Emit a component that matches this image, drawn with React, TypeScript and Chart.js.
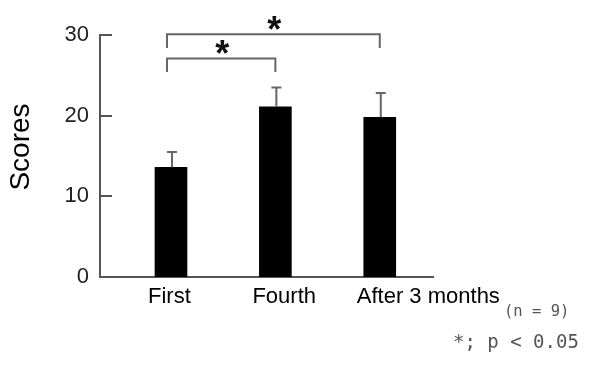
import React, { useEffect, useRef } from "react";
import { Chart, registerables } from "chart.js";

Chart.register(...registerables);

const categories = ["First", "Fourth", "After 3 months"];
const means = [13.6, 21.1, 19.8];
const errors = [1.9, 2.4, 3.0];
const yTicks = [0, 10, 20, 30];
const yTitle = "Scores";
const compFrom = [0, 0];
const compTo = [1, 2];
const compTop = [27.1, 30.1];
const compLeg = [25.4, 28.4];
const compMark = ["*", "*"];
const noteN = "(n = 9)";
const noteP = "*; p < 0.05";

const FONT = "Arial, 'Liberation Sans', sans-serif";
const LABEL_SHIFT = -0.22;

const overlay = {
  id: "overlay",
  afterDraw(chart: any) {
    const ctx = chart.ctx as CanvasRenderingContext2D;
    const xs = chart.scales.x;
    const ys = chart.scales.y;
    ctx.save();
    // inward y ticks
    ctx.strokeStyle = "#555";
    ctx.lineWidth = 2;
    yTicks.forEach((v) => {
      const py = Math.round(ys.getPixelForValue(v));
      ctx.beginPath();
      ctx.moveTo(xs.left, py);
      ctx.lineTo(xs.left + 12, py);
      ctx.stroke();
    });
    // error bars
    const meta = chart.getDatasetMeta(0);
    ctx.strokeStyle = "#666";
    meta.data.forEach((bar: any, i: number) => {
      const cx = bar.x + 1;
      const top = ys.getPixelForValue(means[i] + errors[i]);
      ctx.beginPath();
      ctx.moveTo(cx, bar.y);
      ctx.lineTo(cx, top);
      ctx.moveTo(cx - 5, top);
      ctx.lineTo(cx + 5, top);
      ctx.stroke();
    });
    // significance brackets
    compFrom.forEach((f, k) => {
      const x1 = xs.getPixelForValue(f + 1) - 4;
      const x2 = xs.getPixelForValue(compTo[k] + 1);
      const yt = ys.getPixelForValue(compTop[k]);
      const yl = ys.getPixelForValue(compLeg[k]);
      ctx.strokeStyle = "#666";
      ctx.lineWidth = 2;
      ctx.beginPath();
      ctx.moveTo(x1, yl);
      ctx.lineTo(x1, yt);
      ctx.lineTo(x2, yt);
      ctx.lineTo(x2, yl);
      ctx.stroke();
      ctx.fillStyle = "#111";
      ctx.font = `bold 36px ${FONT}`;
      ctx.textAlign = "center";
      ctx.textBaseline = "alphabetic";
      const m = ctx.measureText(compMark[k]);
      const cy = yt - 11;
      const base = cy + (m.actualBoundingBoxAscent - m.actualBoundingBoxDescent) / 2;
      ctx.fillText(compMark[k], (x1 + x2) / 2 + 1, base);
    });
    // y title
    ctx.save();
    ctx.translate(21, 147);
    ctx.rotate(-Math.PI / 2);
    ctx.fillStyle = "#000";
    ctx.font = `28px ${FONT}`;
    ctx.textAlign = "center";
    ctx.textBaseline = "middle";
    ctx.fillText(yTitle, 0, 0);
    ctx.restore();
    // notes
    ctx.fillStyle = "#555";
    ctx.textAlign = "left";
    ctx.textBaseline = "middle";
    ctx.font = `15.5px 'DejaVu Sans Mono', monospace`;
    ctx.fillText(noteN, 504, 312);
    ctx.font = `19px 'DejaVu Sans Mono', monospace`;
    ctx.fillText(noteP, 453, 343);
    ctx.restore();
  },
};

export default function App() {
  const ref = useRef<HTMLCanvasElement>(null);
  useEffect(() => {
    if (!ref.current) return;
    const chart = new Chart(ref.current, {
      type: "bar",
      data: {
        datasets: [
          {
            data: means.map((v, i) => ({ x: i + 1, y: v })),
            backgroundColor: "#000",
            borderWidth: 0,
            barThickness: 32,
          },
        ],
      },
      options: {
        responsive: false,
        animation: false,
        events: [],
        layout: { padding: { left: 0, top: 35, right: 162, bottom: 65 } },
        plugins: { legend: { display: false }, tooltip: { enabled: false } },
        scales: {
          x: {
            type: "linear",
            min: 0.32,
            max: 3.51,
            offset: false,
            grid: { display: false, drawTicks: false },
            border: { display: true, color: "#555", width: 2 },
            afterBuildTicks: (s: any) => {
              s.ticks = categories.map((_, i) => ({ value: i + 1 + LABEL_SHIFT }));
            },
            afterFit: (s: any) => {
              s.height = 40;
            },
            ticks: {
              autoSkip: false,
              maxRotation: 0,
              align: "start",
              padding: 7,
              color: "#000",
              font: { family: FONT, size: 22 },
              callback: (_v: any, index: number) => categories[index] ?? "",
            },
          },
          y: {
            type: "linear",
            min: 0,
            max: 30,
            grid: { display: false, drawTicks: false },
            border: { display: true, color: "#555", width: 2 },
            afterBuildTicks: (s: any) => {
              s.ticks = yTicks.map((v) => ({ value: v }));
            },
            afterFit: (s: any) => {
              s.width = 100;
            },
            ticks: {
              padding: 11,
              color: "#222",
              font: { family: FONT, size: 22 },
            },
          },
        },
      },
      plugins: [overlay],
    });
    return () => chart.destroy();
  }, []);
  return (
    <div style={{ position: "fixed", left: 0, top: 0, width: 595, height: 382, background: "#fff" }}>
      <canvas ref={ref} width={595} height={382} style={{ display: "block" }} />
    </div>
  );
}
